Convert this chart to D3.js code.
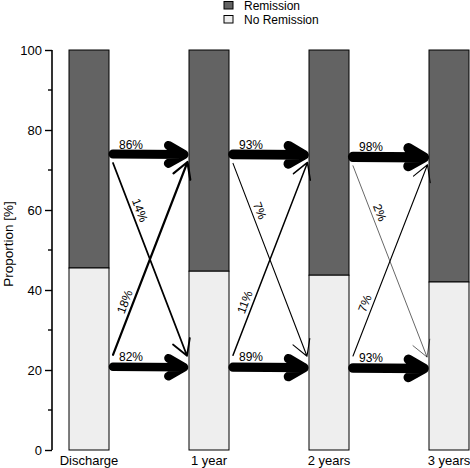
<!DOCTYPE html>
<html>
<head>
<meta charset="utf-8">
<script src="https://cdn.jsdelivr.net/npm/d3@7"></script>
<style>
  html, body { margin: 0; padding: 0; background: #fff; }
  svg { display: block; font-family: "Liberation Sans", Arial, Helvetica, sans-serif; }
</style>
</head>
<body>
<svg id="chart" width="470" height="468"></svg>
<script>
// ---- data ----
const categories = ["Discharge", "1 year", "2 years", "3 years"];
const noRemission = [45.5, 44.7, 43.7, 42.0];
const remission = noRemission.map(v => 100 - v);
// transitions between consecutive time points (percent)
const stayRemission = [86, 93, 98];
const remissionToNo = [14, 7, 2];
const noToRemission = [18, 11, 7];
const stayNo = [82, 89, 93];
// vertical level (in %) of the arrows in each interval
const upperLevel = [74.0, 73.9, 73.3];
const lowerLevel = [20.8, 20.7, 20.5];
const yTicks = [0, 20, 40, 60, 80, 100];
const yMinorTicks = [10, 30, 50, 70, 90];
const legendItems = ["Remission", "No Remission"];

// ---- layout ----
const svg = d3.select("#chart");
const barW = 40;
const x = d3.scaleLinear().domain([0, categories.length - 1]).range([89, 449]);
const y = d3.scaleLinear().domain([0, 100]).range([450, 50]);
const colRem = "#636363", colNo = "#eeeeee";

// bars
categories.forEach((c, i) => {
  const x0 = x(i) - barW / 2;
  svg.append("rect").attr("x", x0).attr("y", y(100)).attr("width", barW)
    .attr("height", y(noRemission[i]) - y(100))
    .attr("fill", colRem).attr("stroke", "#000").attr("stroke-width", 1);
  svg.append("rect").attr("x", x0).attr("y", y(noRemission[i])).attr("width", barW)
    .attr("height", y(0) - y(noRemission[i]))
    .attr("fill", colNo).attr("stroke", "#000").attr("stroke-width", 1);
  svg.append("text").attr("x", x(i)).attr("y", 465).attr("text-anchor", "middle")
    .attr("font-size", 13).text(c);
});

// y axis
const yAxis = d3.axisLeft(y).tickValues(yTicks).tickSize(7).tickPadding(3);
const gAx = svg.append("g").attr("transform", "translate(52,0)").call(yAxis);
gAx.select(".domain").attr("stroke-width", 1.6).attr("d", `M0,${y(100)}V${y(0)}`);
gAx.selectAll(".tick line").attr("stroke-width", 1.4);
gAx.selectAll(".tick text").attr("font-size", 13).attr("font-family", "Liberation Sans, Arial, sans-serif").attr("fill", "#000");
gAx.selectAll(".minor").data(yMinorTicks).enter().append("line")
  .attr("x1", -4).attr("x2", 0).attr("y1", d => y(d)).attr("y2", d => y(d))
  .attr("stroke", "#000").attr("stroke-width", 1.4);

svg.append("text").attr("transform", "translate(13,244) rotate(-90)")
  .attr("text-anchor", "middle").attr("font-size", 13.5).text("Proportion [%]");

// legend
legendItems.forEach((t, i) => {
  svg.append("rect").attr("x", 224).attr("y", 1.5 + i * 14).attr("width", 9).attr("height", 7.5)
    .attr("fill", i === 0 ? colRem : colNo).attr("stroke", "#000").attr("stroke-width", 1);
  svg.append("text").attr("x", 244).attr("y", 10 + i * 14).attr("font-size", 12).text(t);
});

// arrows
function arrow(p0, p1, pct) {
  const w = 0.4 + pct / 10;
  const L = 18, a = Math.PI / 6;
  const ang = Math.atan2(p1[1] - p0[1], p1[0] - p0[0]);
  const h1 = [p1[0] - L * Math.cos(ang - a), p1[1] - L * Math.sin(ang - a)];
  const h2 = [p1[0] - L * Math.cos(ang + a), p1[1] - L * Math.sin(ang + a)];
  svg.append("path")
    .attr("d", `M${p0[0]},${p0[1]}L${p1[0]},${p1[1]}M${h1[0]},${h1[1]}L${p1[0]},${p1[1]}L${h2[0]},${h2[1]}`)
    .attr("fill", "none").attr("stroke", "#000").attr("stroke-width", w)
    .attr("stroke-linecap", "round").attr("stroke-linejoin", "round");
  return ang;
}
function crossLabel(p0, p1, pct) {
  const t = 0.26;
  const px = p0[0] + t * (p1[0] - p0[0]), py = p0[1] + t * (p1[1] - p0[1]);
  const deg = Math.atan2(p1[1] - p0[1], p1[0] - p0[0]) * 180 / Math.PI;
  svg.append("text").attr("transform", `translate(${px},${py}) rotate(${deg})`)
    .attr("x", 0).attr("y", -4).attr("text-anchor", "middle").attr("font-size", 12)
    .text(pct + "%");
}

for (let i = 0; i < categories.length - 1; i++) {
  const xl = x(i) + barW / 2, xr = x(i + 1) - barW / 2;
  const yU = y(upperLevel[i]), yL = y(lowerLevel[i]);
  // thick horizontal arrows
  arrow([xl + 4, yU], [xr - 5, yU + 0.5], stayRemission[i]);
  arrow([xl + 4, yL], [xr - 5, yL + 0.5], stayNo[i]);
  svg.append("text").attr("x", xl + 22).attr("y", yU - 5.5).attr("text-anchor", "middle")
    .attr("font-size", 12).text(stayRemission[i] + "%");
  svg.append("text").attr("x", xl + 22).attr("y", yL - 6).attr("text-anchor", "middle")
    .attr("font-size", 12).text(stayNo[i] + "%");
  // crossing arrows
  const d0 = [xl + 4, yU + 9], d1 = [xr - 2, yL - 11];
  arrow(d0, d1, remissionToNo[i]);
  crossLabel(d0, d1, remissionToNo[i]);
  const u0 = [xl + 4, yL - 12], u1 = [xr - 1.5, yU + 8];
  arrow(u0, u1, noToRemission[i]);
  crossLabel(u0, u1, noToRemission[i]);
}
</script>
</body>
</html>
